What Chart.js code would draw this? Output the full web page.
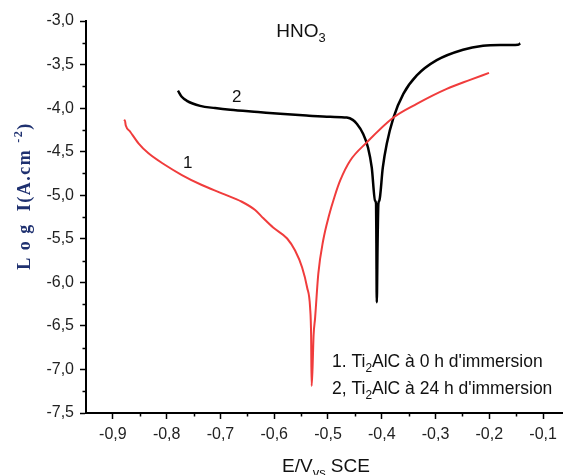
<!DOCTYPE html>
<html><head><meta charset="utf-8">
<script src="https://cdn.jsdelivr.net/npm/chart.js@4/dist/chart.umd.min.js"></script>
<style>html,body{margin:0;padding:0;background:#fff;overflow:hidden}#wrap{width:563px;height:475px;position:relative}</style>
</head><body><div id="wrap"><canvas id="c" width="563" height="475"></canvas></div>
<script>
// ---- data ----
const xTickValues = [-0.9,-0.8,-0.7,-0.6,-0.5,-0.4,-0.3,-0.2,-0.1];
const yTickValues = [-3.0,-3.5,-4.0,-4.5,-5.0,-5.5,-6.0,-6.5,-7.0,-7.5];

// curve 1 : Ti2AlC, 0 h immersion (red)
const e1 =    [-0.8790,-0.8778,-0.8760,-0.8678,-0.8524,-0.8338,-0.8028,-0.7717,-0.7346,-0.6974,-0.6602,-0.6355,-0.6201,-0.6020,-0.5760,-0.5612,-0.5481,-0.5388,-0.5333,-0.5314,-0.5305,-0.5287,-0.5268,-0.5240,-0.5180,-0.5090,-0.4980,-0.4880,-0.4775,-0.4589,-0.4279,-0.3790,-0.3350,-0.2792,-0.2358,-0.2006];
const logI1 = [-4.15,  -4.14,  -4.20,  -4.271, -4.404, -4.519, -4.653, -4.768, -4.883, -4.978, -5.075, -5.170, -5.265, -5.371, -5.497, -5.635, -5.829, -6.059, -6.288, -6.61,  -7.19,  -6.98,  -6.61,  -6.41,  -5.90,  -5.52,  -5.23,  -5.02,  -4.833, -4.604, -4.394, -4.111, -3.951, -3.779, -3.676, -3.596];

// curve 2 : Ti2AlC, 24 h immersion (black)
const e2 =    [-0.7790,-0.7720,-0.7624,-0.7377,-0.7100,-0.6819,-0.6300,-0.5890,-0.5400,-0.4961,-0.4651,-0.4540,-0.4465,-0.4348,-0.4255,-0.4186,-0.4125,-0.4106,-0.4100,-0.4093,-0.4078,-0.4063,-0.4045,-0.3981,-0.3907,-0.3784,-0.3599,-0.3349,-0.2978,-0.2489,-0.2117,-0.1800,-0.1467,-0.1425];
const logI2 = [-3.80,  -3.87,  -3.916, -3.974, -4.000, -4.020, -4.045, -4.065, -4.085, -4.100, -4.108, -4.135, -4.180, -4.294, -4.455, -4.684, -5.062, -5.10,  -5.55,  -6.23,  -5.55,  -5.10,  -5.062, -4.684, -4.409, -4.111, -3.836, -3.625, -3.450, -3.330, -3.285, -3.276, -3.272, -3.258];

const xMin = -0.95, xMax = -0.063, yMin = -7.5, yMax = -3.0;

const pts = (xs, ys) => xs.map((x, i) => ({x, y: ys[i]}));
const fmt = v => Number(v).toFixed(1).replace('.', ',');

function drawRich(ctx, segs, x, y, align, size, family, weight) {
  const mk = s => (weight ? weight + ' ' : '') + s + 'px ' + family;
  let w = 0;
  segs.forEach(s => { ctx.font = mk(s.sub || s.sup ? size * 0.68 : size); s.w = ctx.measureText(s.t).width; w += s.w; });
  let cx = align === 'center' ? x - w / 2 : x;
  ctx.textAlign = 'left';
  ctx.textBaseline = 'alphabetic';
  segs.forEach(s => {
    ctx.font = mk(s.sub || s.sup ? size * 0.68 : size);
    const dy = s.sub ? size * 0.28 : (s.sup ? -size * 0.42 : 0);
    ctx.fillText(s.t, cx, y + dy);
    cx += s.w;
  });
}

const decorPlugin = {
  id: 'decor',
  afterDraw(chart) {
    const ctx = chart.ctx;
    const xs = chart.scales.x, ys = chart.scales.y;
    ctx.save();
    // minor ticks
    ctx.strokeStyle = '#000'; ctx.lineWidth = 1.5;
    ctx.beginPath();
    for (let v = -0.85; v < xMax; v += 0.1) {
      const px = Math.round(xs.getPixelForValue(v)) + 0.5;
      ctx.moveTo(px, ys.bottom); ctx.lineTo(px, ys.bottom + 3.5);
    }
    for (let v = -3.25; v > yMin; v -= 0.5) {
      const py = Math.round(ys.getPixelForValue(v)) + 0.5;
      ctx.moveTo(xs.left, py); ctx.lineTo(xs.left - 3.5, py);
    }
    ctx.stroke();

    const sans = '"Liberation Sans", Arial, sans-serif';
    ctx.fillStyle = '#111';
    // title
    drawRich(ctx, [{t:'HNO'},{t:'3', sub:true}], 301, 37, 'center', 19, sans);
    // curve numbers
    drawRich(ctx, [{t:'1'}], 183, 168, 'left', 17, sans);
    drawRich(ctx, [{t:'2'}], 232, 102, 'left', 17, sans);
    // legend text
    drawRich(ctx, [{t:'1. Ti'},{t:'2', sub:true},{t:'AlC à 0 h d\'immersion'}], 332, 367, 'left', 17.5, sans);
    drawRich(ctx, [{t:'2, Ti'},{t:'2', sub:true},{t:'AlC à 24 h d\'immersion'}], 332, 394, 'left', 17.5, sans);
    // x title
    drawRich(ctx, [{t:'E/V'},{t:'vs', sub:true},{t:' SCE'}], 326, 472, 'center', 19, sans);
    // y title
    ctx.save();
    ctx.translate(30, 196);
    ctx.rotate(-Math.PI / 2);
    ctx.fillStyle = '#1f3170';
    try { ctx.letterSpacing = '1.5px'; } catch (e) {}
    drawRich(ctx, [{t:'L o g  I(A.cm '},{t:'-2', sup:true},{t:')'}], 0, 0, 'center', 18, '"Liberation Serif", "Times New Roman", serif', 'bold');
    ctx.restore();
    ctx.restore();
  }
};

new Chart(document.getElementById('c'), {
  type: 'scatter',
  data: {
    datasets: [
      { label: '1', data: pts(e1, logI1), showLine: true, borderColor: '#f03c3c', borderWidth: 2, pointRadius: 0, cubicInterpolationMode: 'monotone', fill: false },
      { label: '2', data: pts(e2, logI2), showLine: true, borderColor: '#000000', borderWidth: 2.5, pointRadius: 0, cubicInterpolationMode: 'monotone', fill: false }
    ]
  },
  options: {
    responsive: false,
    animation: false,
    events: [],
    layout: { padding: { left: 0, right: 0, top: 21, bottom: 0 } },
    plugins: { legend: { display: false }, tooltip: { enabled: false }, title: { display: false } },
    scales: {
      x: {
        type: 'linear', min: xMin, max: xMax,
        afterBuildTicks: s => { s.ticks = xTickValues.map(v => ({value: v})); },
        afterFit: s => { s.height = 62; },
        border: { display: true, color: '#000', width: 2 },
        grid: { drawOnChartArea: false, drawTicks: true, tickLength: 6, tickColor: '#000', tickWidth: 1.5 },
        ticks: { callback: v => fmt(v), color: '#222', font: { size: 16, family: '"Liberation Sans", Arial, sans-serif' }, padding: 6, maxRotation: 0, autoSkip: false }
      },
      y: {
        type: 'linear', min: yMin, max: yMax,
        afterBuildTicks: s => { s.ticks = yTickValues.map(v => ({value: v})); },
        afterFit: s => { s.width = 86; },
        border: { display: true, color: '#000', width: 2 },
        grid: { drawOnChartArea: false, drawTicks: true, tickLength: 6, tickColor: '#000', tickWidth: 1.5 },
        ticks: { callback: v => fmt(v), color: '#222', font: { size: 16, family: '"Liberation Sans", Arial, sans-serif' }, padding: 6, autoSkip: false }
      }
    }
  },
  plugins: [decorPlugin]
});
</script>
</body></html>
